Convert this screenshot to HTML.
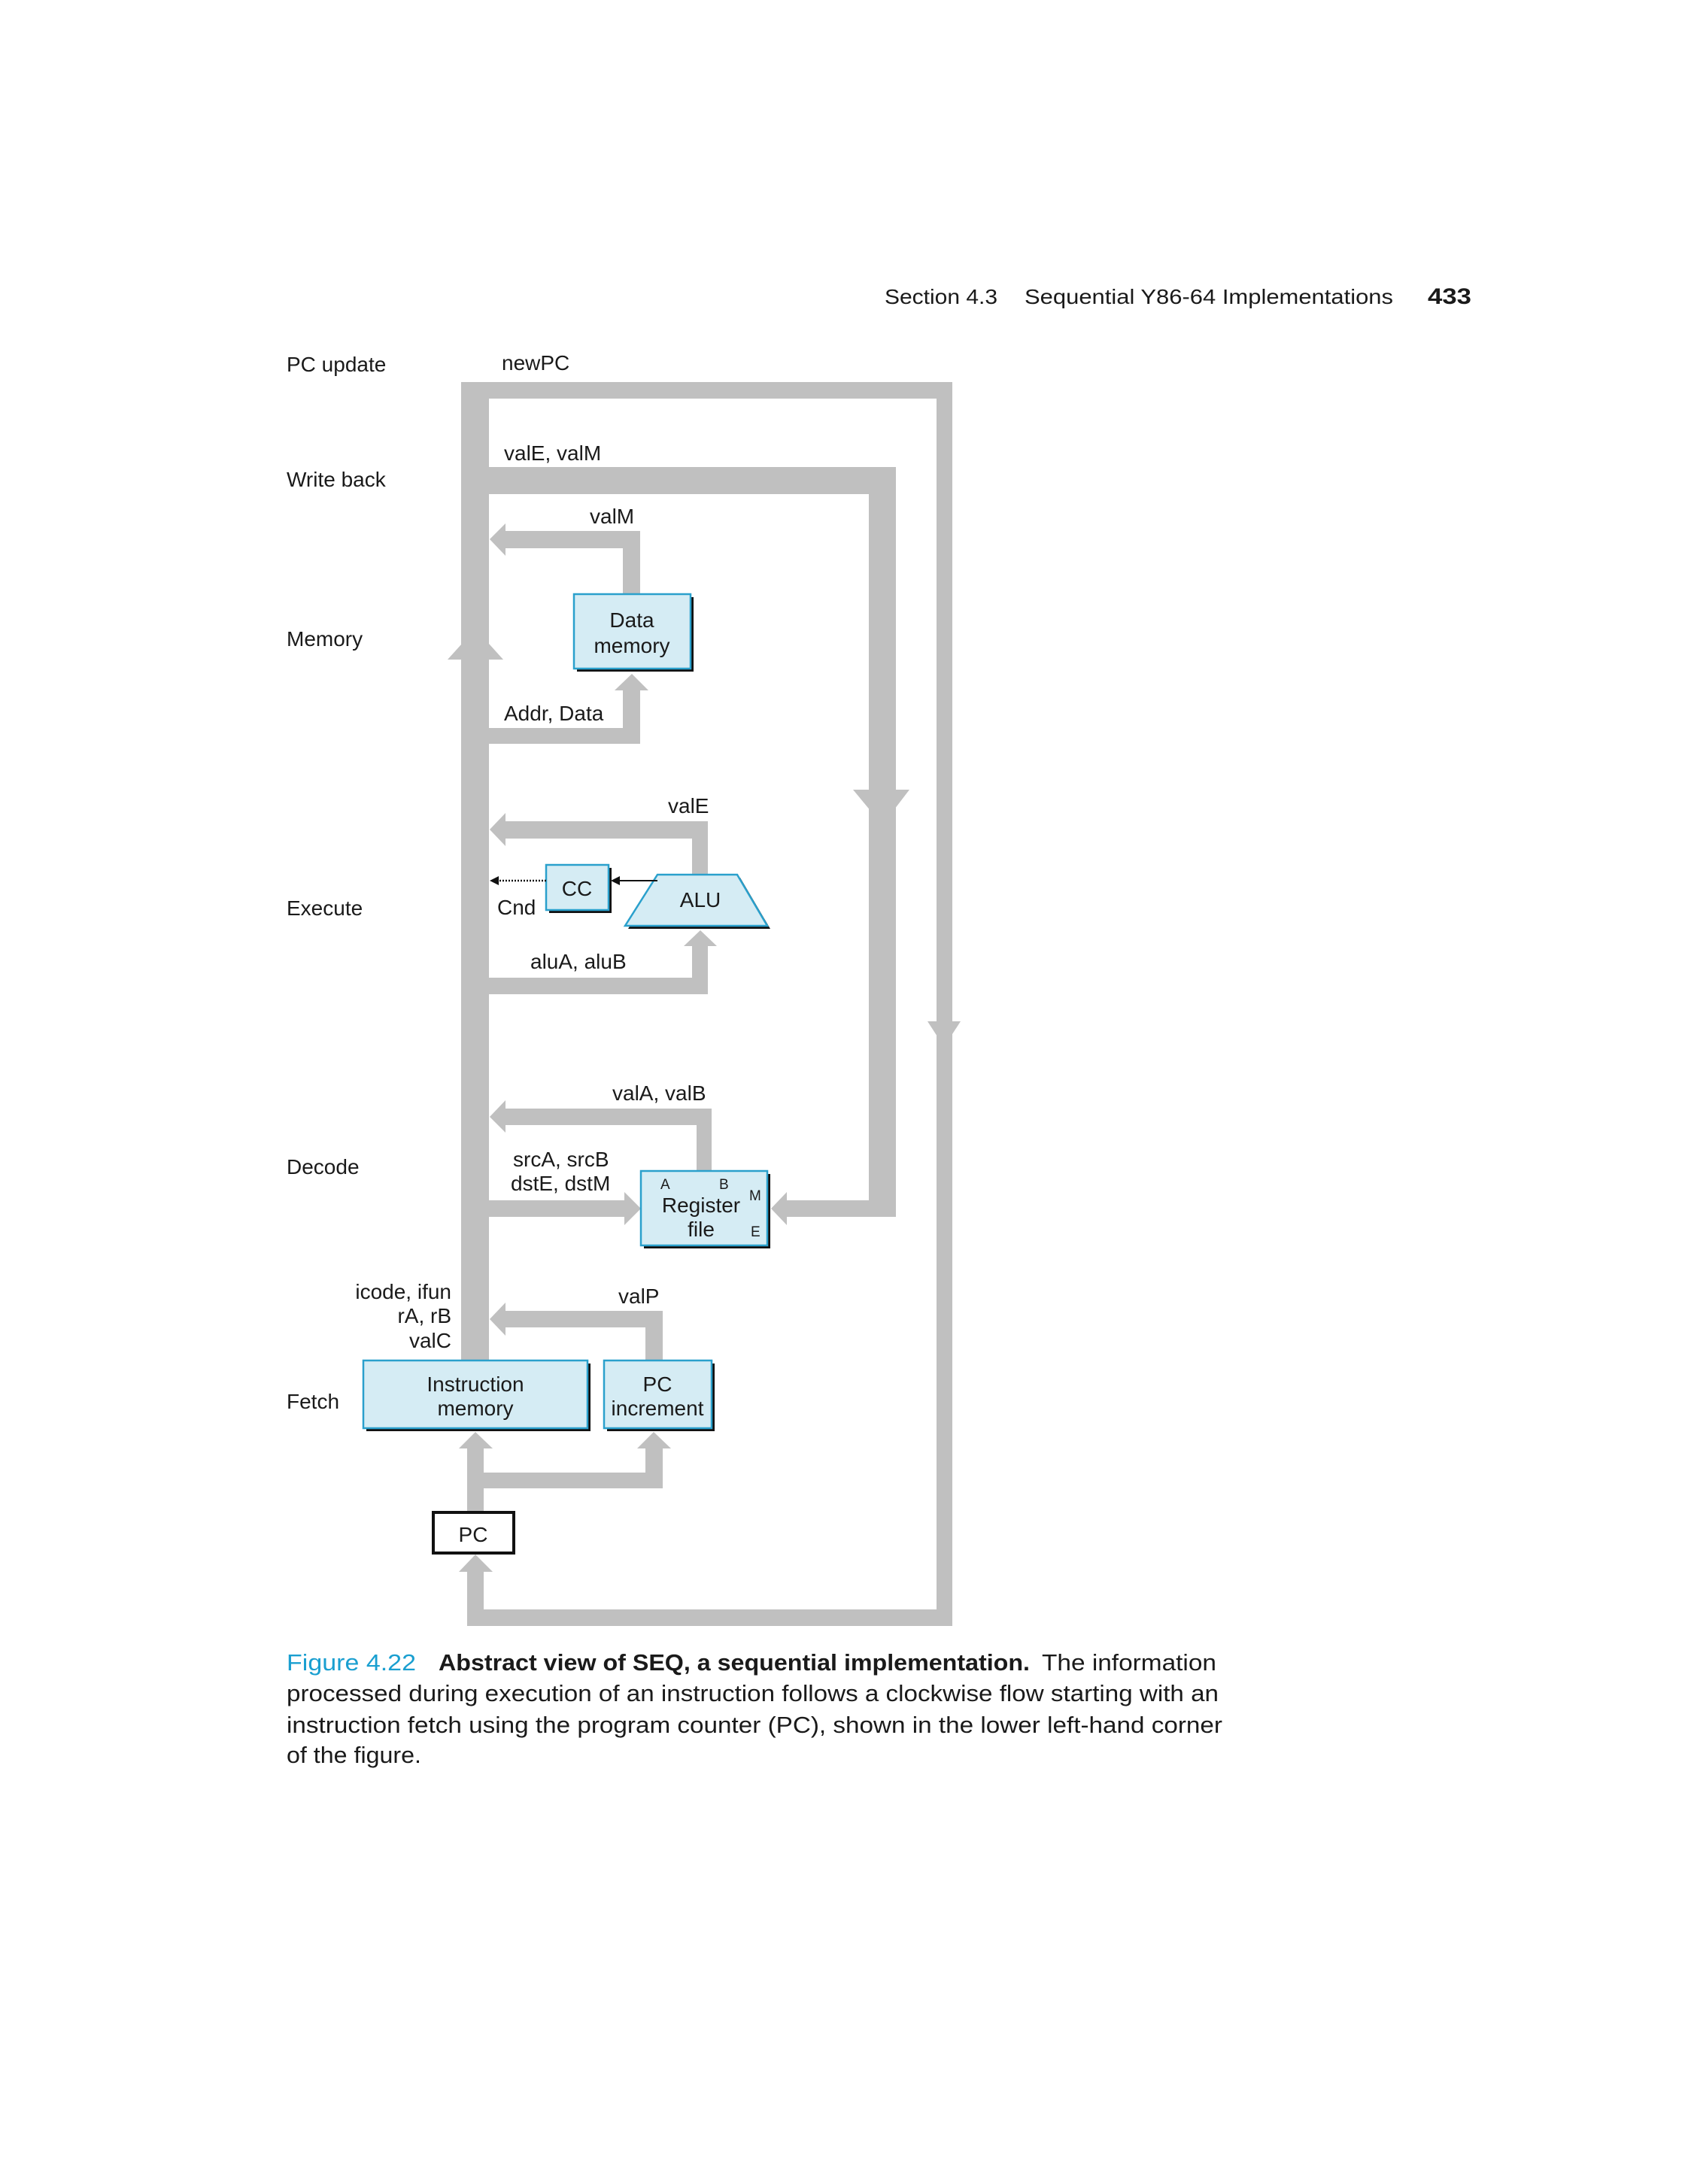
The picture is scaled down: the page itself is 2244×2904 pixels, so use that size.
<!DOCTYPE html>
<html><head><meta charset="utf-8"><style>
html,body{margin:0;padding:0;background:#fff;}
svg{display:block;}
text{font-family:"Liberation Sans",sans-serif;fill:#1a1a1a;}
</style></head><body>
<svg width="2244" height="2904" viewBox="0 0 2244 2904" xmlns="http://www.w3.org/2000/svg">
<!-- header -->
<text x="1176" y="404" font-size="28" textLength="150" lengthAdjust="spacingAndGlyphs">Section 4.3</text>
<text x="1362" y="404" font-size="28" textLength="490" lengthAdjust="spacingAndGlyphs">Sequential Y86-64 Implementations</text>
<text x="1898" y="404" font-size="30" font-weight="bold" textLength="58" lengthAdjust="spacingAndGlyphs">433</text>

<g fill="#c0c0c0">
<rect x="613" y="508" width="37" height="1301"/>
<polygon points="595,877 669,877 632,836"/>
<rect x="613" y="508" width="653" height="22"/>
<rect x="1245" y="508" width="21" height="1654"/>
<polygon points="1233,1358 1277,1358 1255,1392"/>
<rect x="621" y="2140" width="645" height="22"/>
<rect x="621" y="2088" width="22" height="74"/>
<polygon points="610,2090 655,2090 632,2067"/>
<rect x="650" y="621" width="541" height="36"/>
<rect x="1155" y="621" width="36" height="997"/>
<polygon points="1134,1050 1209,1050 1173,1097"/>
<rect x="1046" y="1596" width="145" height="22"/>
<polygon points="1046,1585 1046,1629 1025,1607"/>
<rect x="828" y="706" width="23" height="84"/>
<rect x="672" y="706" width="179" height="23"/>
<polygon points="672,696 672,739 651,717"/>
<rect x="650" y="968" width="201" height="21"/>
<rect x="828" y="916" width="23" height="73"/>
<polygon points="817,918 862,918 840,896"/>
<rect x="920" y="1092" width="21" height="72"/>
<rect x="672" y="1092" width="269" height="23"/>
<polygon points="672,1081 672,1125 651,1103"/>
<rect x="650" y="1300" width="291" height="22"/>
<rect x="920" y="1256" width="21" height="66"/>
<polygon points="909,1258 953,1258 931,1237"/>
<rect x="926" y="1474" width="20" height="84"/>
<rect x="672" y="1474" width="274" height="22"/>
<polygon points="672,1463 672,1506 651,1485"/>
<rect x="650" y="1596" width="182" height="22"/>
<polygon points="830,1585 830,1629 852,1607"/>
<rect x="858" y="1743" width="23" height="67"/>
<rect x="672" y="1743" width="209" height="22"/>
<polygon points="672,1732 672,1776 651,1754"/>
<rect x="621" y="1924" width="22" height="86"/>
<rect x="621" y="1958" width="260" height="21"/>
<rect x="858" y="1924" width="23" height="55"/>
<polygon points="610,1926 655,1926 632,1904"/>
<polygon points="847,1926 892,1926 869,1904"/>
</g>

<g stroke="#2aa0cc" stroke-width="2.5" fill="#d5ecf4">
<rect x="767" y="794" width="155" height="99" fill="#111" stroke="none"/>
<rect x="763" y="790" width="155" height="99"/>
<rect x="730" y="1154" width="83" height="60" fill="#111" stroke="none"/>
<rect x="726" y="1150" width="83" height="60"/>
<polygon points="878,1167 984,1167 1024,1235 835,1235" fill="#111" stroke="none"/>
<polygon points="874,1163 980,1163 1020,1231 831,1231"/>
<rect x="856" y="1561" width="168" height="99" fill="#111" stroke="none"/>
<rect x="852" y="1557" width="168" height="99"/>
<rect x="487" y="1813" width="298" height="90" fill="#111" stroke="none"/>
<rect x="483" y="1809" width="298" height="90"/>
<rect x="807" y="1813" width="143" height="90" fill="#111" stroke="none"/>
<rect x="803" y="1809" width="143" height="90"/>
</g>
<rect x="576" y="2011" width="107" height="54" fill="#fff" stroke="#111" stroke-width="4"/>
<line x1="874" y1="1171" x2="822" y2="1171" stroke="#111" stroke-width="2"/>
<polygon points="812,1171 824,1165 824,1177" fill="#111"/>
<line x1="726" y1="1171" x2="662" y2="1171" stroke="#111" stroke-width="2.5" stroke-dasharray="2,2"/>
<polygon points="651,1171 663,1165 663,1177" fill="#111"/>

<g font-size="28">
<text x="381" y="494">PC update</text>
<text x="381" y="647">Write back</text>
<text x="381" y="859">Memory</text>
<text x="381" y="1217">Execute</text>
<text x="381" y="1561">Decode</text>
<text x="381" y="1873">Fetch</text>
<text x="667" y="492">newPC</text>
<text x="670" y="612">valE, valM</text>
<text x="784" y="696">valM</text>
<text x="840" y="834" text-anchor="middle">Data</text>
<text x="840" y="868" text-anchor="middle">memory</text>
<text x="670" y="958">Addr, Data</text>
<text x="888" y="1081">valE</text>
<text x="767" y="1191" text-anchor="middle">CC</text>
<text x="931" y="1206" text-anchor="middle">ALU</text>
<text x="661" y="1216">Cnd</text>
<text x="705" y="1288">aluA, aluB</text>
<text x="814" y="1463">valA, valB</text>
<text x="682" y="1551">srcA, srcB</text>
<text x="679" y="1583">dstE, dstM</text>
<text x="932" y="1612" text-anchor="middle">Register</text>
<text x="932" y="1644" text-anchor="middle">file</text>
<text x="600" y="1727" text-anchor="end">icode, ifun</text>
<text x="600" y="1759" text-anchor="end">rA, rB</text>
<text x="600" y="1792" text-anchor="end">valC</text>
<text x="822" y="1733">valP</text>
<text x="632" y="1850" text-anchor="middle">Instruction</text>
<text x="632" y="1882" text-anchor="middle">memory</text>
<text x="874" y="1850" text-anchor="middle">PC</text>
<text x="874" y="1882" text-anchor="middle">increment</text>
<text x="629" y="2050" text-anchor="middle">PC</text>
</g>
<g font-size="19">
<text x="878" y="1581">A</text>
<text x="956" y="1581">B</text>
<text x="996" y="1596">M</text>
<text x="998" y="1644">E</text>
</g>

<g font-size="31">
<text x="381" y="2221" style="fill:#1a9fd0" textLength="172" lengthAdjust="spacingAndGlyphs">Figure 4.22</text>
<text x="583" y="2221" font-weight="bold" textLength="786" lengthAdjust="spacingAndGlyphs">Abstract view of SEQ, a sequential implementation.</text>
<text x="1385" y="2221" textLength="232" lengthAdjust="spacingAndGlyphs">The information</text>
<text x="381" y="2262" textLength="1239" lengthAdjust="spacingAndGlyphs">processed during execution of an instruction follows a clockwise flow starting with an</text>
<text x="381" y="2304" textLength="1244" lengthAdjust="spacingAndGlyphs">instruction fetch using the program counter (PC), shown in the lower left-hand corner</text>
<text x="381" y="2344" textLength="179" lengthAdjust="spacingAndGlyphs">of the figure.</text>
</g>
</svg>
</body></html>
